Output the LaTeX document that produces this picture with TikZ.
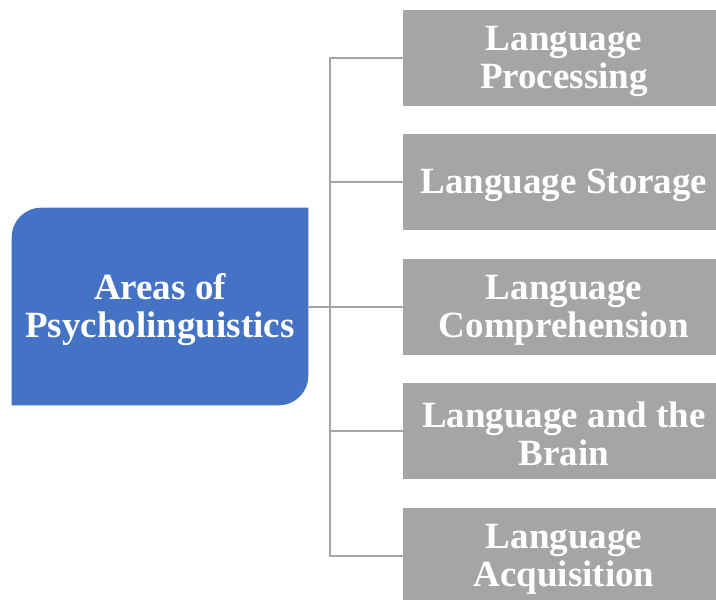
\documentclass[tikz,border=0pt]{standalone}
\usepackage{fontspec}
\setmainfont{Liberation Serif}
\usetikzlibrary{backgrounds}

\definecolor{areablue}{HTML}{4472C4}
\definecolor{topicgrey}{HTML}{A5A5A5}

\begin{document}
\begin{tikzpicture}[x=0.75pt,y=-0.75pt,
        caption/.style={text=white,align=center,inner sep=0pt,yshift=-2.25pt,
            font=\fontsize{27.75}{28.5}\selectfont\bfseries},
        area/.style={inner sep=0pt,minimum width=222pt,minimum height=147.75pt},
        topic/.style={fill=topicgrey,inner sep=0pt,
            minimum width=241.5pt,minimum height=72pt},
        link/.style={draw=topicgrey,line width=1.5pt}]
        \clip (0,0) rectangle (716,599);

        %%%% Root ========================================
        \node[area,label={[caption]center:Areas of\\Psycholinguistics}] (root) at (160,306.5) {};
        \begin{scope}[on background layer]
            \fill[areablue] (root.west)
                [rounded corners=22pt] -- (root.north west)
                [sharp corners] -- (root.north east)
                [rounded corners=22pt] -- (root.south east)
                [sharp corners] -- (root.south west) -- cycle;
        \end{scope}

        %%%% Areas =======================================
        \node[topic,label={[caption]center:Language\\Processing}] (p1) at (564,58) {};
        \node[topic,label={[caption]center:Language Storage}] (p2) at (564,182) {};
        \node[topic,label={[caption]center:Language\\Comprehension}] (p3) at (564,307) {};
        \node[topic,label={[caption]center:Language and the\\Brain}] (p4) at (564,431) {};
        \node[topic,label={[caption]center:Language\\Acquisition}] (p5) at (564,556) {};

        %%%% Links =======================================
        \coordinate (trunk) at (330,306.5);
        \draw[link] (root.east) -- (trunk);
        \draw[link] (trunk) |- (p1.west);
        \draw[link] (trunk) |- (p2.west);
        \draw[link] (trunk) |- (p3.west);
        \draw[link] (trunk) |- (p4.west);
        \draw[link] (trunk) |- (p5.west);
    \end{tikzpicture}
\end{document}
